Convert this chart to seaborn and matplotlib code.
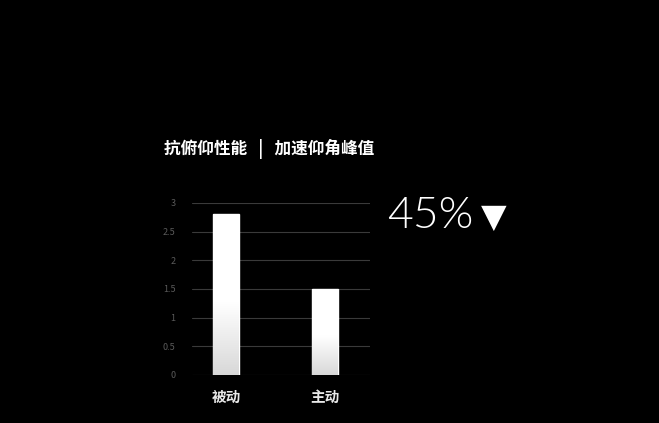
import numpy as np
import pandas as pd
import matplotlib
matplotlib.use("Agg")
import matplotlib.pyplot as plt
import seaborn as sns

categories = ["被动", "主动"]
values = [2.8, 1.5]
yticks = [0, 0.5, 1, 1.5, 2, 2.5, 3]
ytick_labels = ["0", "0.5", "1", "1.5", "2", "2.5", "3"]
title = "抗俯仰性能   |   加速仰角峰值"
change_text = "45%"

sns.set_theme(style="dark")
plt.rcParams['font.family'] = ['Noto Sans CJK SC', 'DejaVu Sans']

fig = plt.figure(figsize=(6.59, 4.23), dpi=100)
fig.patch.set_facecolor("black")
ax = fig.add_axes([0.2914, 0.1135, 0.2701, 0.4067])
ax.set_facecolor("black")

df = pd.DataFrame({"cat": categories, "val": values})
sns.barplot(data=df, x="cat", y="val", ax=ax, color="white", width=0.26,
            saturation=1, zorder=3)

# gradient fill on bars
grad = np.linspace(0, 1, 256).reshape(-1, 1)
cmap = matplotlib.colors.LinearSegmentedColormap.from_list(
    "g", [(0, "#d8d8d8"), (0.45, "#ffffff"), (1, "#ffffff")])
for p in ax.patches:
    x0, y0 = p.get_x(), p.get_y()
    w, h = p.get_width(), p.get_height()
    im = ax.imshow(grad, extent=[x0, x0 + w, y0, y0 + h], origin="lower",
                   cmap=cmap, aspect="auto", zorder=4)
    im.set_clip_path(p)

ax.set_xlim(-0.343, 1.455)
ax.set_ylim(0, 3)
ax.set_yticks(yticks)
ax.set_yticklabels(ytick_labels, color="#5a5a5a", fontsize=6.5)
ax.yaxis.grid(True, color="#3a3a3a", linewidth=0.8, zorder=0)
ax.xaxis.grid(False)
ax.tick_params(axis="y", length=0, pad=12)
ax.tick_params(axis="x", length=0, pad=10, colors="#e8e8e8", labelsize=10.5)
for lbl in ax.get_xticklabels():
    lbl.set_fontweight("bold")
ax.set_xlabel("")
ax.set_ylabel("")
for s in ax.spines.values():
    s.set_visible(False)

fig.text(0.409, 0.648, title, color="white", fontsize=12, fontweight="bold",
         ha="center", va="center")
fig.text(0.587, 0.487, change_text, color="white", fontsize=32,
         family=["Lato", "DejaVu Sans"], fontweight=300,
         ha="left", va="center")
fig.text(0.729, 0.487, "▼", color="white", fontsize=24,
         family=["DejaVu Sans"], ha="left", va="center")

fig.savefig("out.png", dpi=100, facecolor="black")
